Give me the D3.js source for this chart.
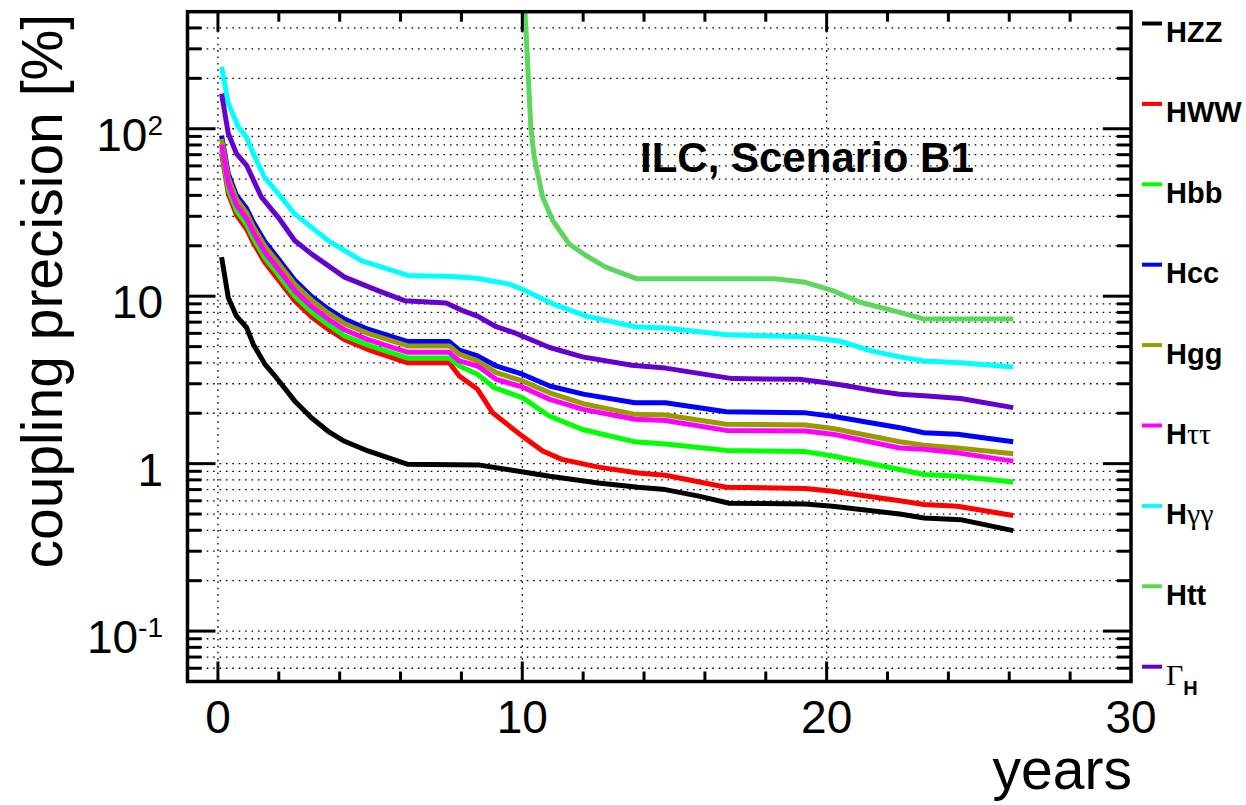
<!DOCTYPE html>
<html><head><meta charset="utf-8">
<script src="https://cdn.jsdelivr.net/npm/d3@7"></script>
<style>body{margin:0;background:#fff}svg{display:block}</style>
</head><body><svg id="c" width="1246" height="805"></svg>
<script>
// ---- data (years, coupling precision %) ----
const HZZ = [[0.12,17.1],[0.34,9.8],[0.61,7.6],[0.94,6.5],[1.16,5.17],[1.54,3.93],[1.92,3.26],[2.52,2.37],[3.07,1.88],[3.62,1.56],[4.16,1.36],[4.93,1.19],[6.24,0.99],[8.6,0.98],[9.57,0.92],[10.9,0.84],[12.5,0.767],[13.8,0.723],[14.7,0.70],[15.8,0.64],[16.8,0.58],[19.3,0.575],[20.2,0.557],[22.4,0.50],[23.2,0.474],[24.4,0.463],[26.13,0.398]];
const HWW = [[0.12,71],[0.34,41],[0.61,30.5],[0.94,25.2],[1.16,20.9],[1.54,15.9],[1.92,13.0],[2.52,9.4],[3.07,7.55],[3.62,6.35],[4.16,5.5],[4.93,4.8],[6.24,4.0],[7.6,4.0],[7.93,3.34],[8.53,2.78],[9.03,2.01],[9.57,1.68],[10.0,1.46],[10.67,1.19],[11.3,1.06],[12.5,0.953],[13.8,0.88],[14.7,0.853],[16.7,0.723],[19.3,0.71],[20.2,0.684],[22.4,0.60],[23.2,0.57],[24.3,0.557],[26.13,0.49]];
const Hbb = [[0.12,75],[0.34,43.5],[0.61,32.4],[0.94,26.8],[1.16,22.2],[1.54,16.9],[1.92,13.9],[2.52,10.0],[3.07,8.05],[3.62,6.75],[4.16,5.8],[4.93,5.1],[6.24,4.27],[7.6,4.27],[7.93,3.83],[8.53,3.42],[9.08,2.84],[10.0,2.48],[10.9,1.92],[11.98,1.60],[13.7,1.35],[14.7,1.31],[16.7,1.20],[19.3,1.18],[20.2,1.11],[22.4,0.923],[23.2,0.861],[24.3,0.842],[26.13,0.778]];
const Hcc = [[0.12,91],[0.34,54],[0.61,40],[0.94,33.5],[1.16,27.7],[1.54,21.2],[1.92,17.3],[2.52,12.5],[3.07,10.0],[3.62,8.4],[4.16,7.3],[4.93,6.35],[6.24,5.36],[7.6,5.36],[7.93,4.76],[8.53,4.40],[9.14,3.83],[10.0,3.42],[10.9,2.91],[12.0,2.60],[13.7,2.31],[14.7,2.31],[16.7,2.04],[19.3,2.01],[20.2,1.92],[22.4,1.64],[23.2,1.53],[24.3,1.50],[26.13,1.35]];
const Hgg = [[0.12,87],[0.34,51],[0.61,38],[0.94,31.5],[1.16,26],[1.54,19.9],[1.92,16.3],[2.52,11.8],[3.07,9.5],[3.62,7.95],[4.16,6.85],[4.93,6.0],[6.24,5.05],[7.6,5.05],[7.93,4.51],[8.53,4.11],[9.14,3.50],[10.0,3.12],[10.9,2.65],[12.0,2.28],[13.7,1.97],[14.7,1.95],[16.7,1.72],[19.3,1.70],[20.2,1.62],[22.4,1.35],[23.2,1.29],[24.3,1.24],[26.13,1.145]];
const Htautau = [[0.12,80],[0.34,47],[0.61,35],[0.94,29],[1.16,24],[1.54,18.3],[1.92,15],[2.52,10.8],[3.07,8.7],[3.62,7.3],[4.16,6.3],[4.93,5.5],[6.24,4.62],[7.6,4.62],[7.93,4.11],[8.53,3.83],[9.14,3.19],[10.0,2.87],[10.9,2.42],[12.0,2.11],[13.7,1.84],[14.7,1.81],[16.7,1.58],[19.3,1.565],[20.2,1.50],[22.4,1.24],[23.2,1.22],[24.3,1.16],[26.13,1.035]];
const Hgamgam = [[0.12,234],[0.34,142],[0.67,102.5],[0.94,89],[1.21,68],[1.54,51],[1.98,41],[2.52,31],[3.62,21.5],[4.71,16.3],[6.24,13.3],[7.7,13.1],[8.5,12.8],[9.57,11.8],[10.0,11.0],[11.0,9.0],[12.1,7.6],[13.7,6.57],[14.7,6.45],[16.7,5.88],[19.3,5.72],[20.4,5.4],[21.5,4.7],[22.4,4.34],[23.2,4.1],[24.4,4.0],[26.13,3.78]];
const Htt = [[10.05,700],[10.28,102],[10.39,68],[10.67,39],[11.0,28.3],[11.54,20.5],[12.09,17.5],[12.74,14.9],[13.77,12.7],[18.3,12.7],[19.3,12.1],[20.2,10.8],[21.1,9.2],[22.4,8.0],[23.2,7.3],[26.13,7.3]];
const GammaH = [[0.12,162],[0.34,93.6],[0.61,71],[0.94,60.5],[1.43,39],[1.98,29.6],[2.52,21.5],[3.07,17.9],[4.16,13.0],[5.26,10.8],[6.13,9.4],[7.5,9.1],[8.04,8.2],[8.53,7.6],[9.14,6.57],[9.8,5.99],[10.9,4.94],[11.98,4.34],[13.6,3.87],[14.7,3.72],[16.9,3.22],[19.1,3.19],[19.95,3.05],[20.7,2.91],[21.6,2.72],[22.4,2.60],[23.2,2.54],[24.4,2.45],[26.13,2.16]];

const seriesKeys = ["HZZ","HWW","Hbb","Hcc","Hgg","Htautau","Hgamgam","Htt","GammaH"];
const seriesData = [HZZ,HWW,Hbb,Hcc,Hgg,Htautau,Hgamgam,Htt,GammaH];
const seriesColors = ["#000000","#ff0000","#00ff00","#0000ff","#999900","#ff00ff","#00ffff","#5cd65c","#6600cc"];
const xTickValues = [0,10,20,30];
const xMinorValues = [2,4,6,8,12,14,16,18,22,24,26,28];
const yMajorValues = [0.1,1,10,100];
const yMajorLabels = [["10","-1"],["1",""],["10",""],["10","2"]];
const titleText = "ILC, Scenario B1";
const xTitle = "years";
const yTitle = "coupling precision [%]";

// ---- layout ----
const L = 187.5, R = 1131, T = 11.7, B = 681.5;
const svg = d3.select("#c");
const x = d3.scaleLinear().domain([-1,30]).range([L,R]);
const y = d3.scaleLog().domain([0.05,500]).range([B,T]);
const font = "'Liberation Sans', Arial, Helvetica, sans-serif";
const serif = "'Liberation Serif', 'DejaVu Serif', serif";

// minor y values
const yAll = [];
for (let e=-2;e<=2;e++) for (let m=1;m<=9;m++){const v=m*Math.pow(10,e); if(v>0.0499 && v<500.1) yAll.push(+v.toPrecision(3));}

// grid
const grid = svg.append("g").attr("stroke","#000").attr("stroke-width",1.3).attr("stroke-dasharray","1.6,4.8");
grid.selectAll("line.h").data(yAll.filter(v=>v>0.051 && v<499)).join("line")
  .attr("x1",L).attr("x2",R).attr("y1",d=>y(d)).attr("y2",d=>y(d));
grid.selectAll("line.v").data(xTickValues.filter(v=>v<30)).join("line")
  .attr("y1",T).attr("y2",B).attr("x1",d=>x(d)).attr("x2",d=>x(d));

// clip
svg.append("clipPath").attr("id","pc").append("rect").attr("x",L).attr("y",T).attr("width",R-L).attr("height",B-T);

// lines
const line = d3.line().x(d=>x(d[0])).y(d=>y(d[1]));
const lg = svg.append("g").attr("clip-path","url(#pc)");
seriesData.forEach((s,i)=>{
  lg.append("path").attr("d",line(s)).attr("fill","none").attr("stroke",seriesColors[i])
    .attr("stroke-width",5).attr("stroke-linejoin","round");
});

// axes ticks
const ax = svg.append("g").attr("stroke","#000").attr("stroke-width",3);
const yMinorOnly = yAll.filter(v=>!yMajorValues.includes(v) && v>0.051 && v<499);
ax.selectAll("line.ylm").data(yMajorValues).join("line").attr("x1",L).attr("x2",L+28).attr("y1",d=>y(d)).attr("y2",d=>y(d));
ax.selectAll("line.ylmi").data(yMinorOnly).join("line").attr("x1",L).attr("x2",L+14).attr("y1",d=>y(d)).attr("y2",d=>y(d));
ax.selectAll("line.yrm").data(yMajorValues).join("line").attr("x1",R).attr("x2",R-28).attr("y1",d=>y(d)).attr("y2",d=>y(d));
ax.selectAll("line.yrmi").data(yMinorOnly).join("line").attr("x1",R).attr("x2",R-14).attr("y1",d=>y(d)).attr("y2",d=>y(d));
ax.selectAll("line.xbm").data(xTickValues.filter(v=>v<30)).join("line").attr("y1",B).attr("y2",B-20).attr("x1",d=>x(d)).attr("x2",d=>x(d));
ax.selectAll("line.xbmi").data(xMinorValues).join("line").attr("y1",B).attr("y2",B-10).attr("x1",d=>x(d)).attr("x2",d=>x(d));
ax.selectAll("line.xtm").data(xTickValues.filter(v=>v<30)).join("line").attr("y1",T).attr("y2",T+20).attr("x1",d=>x(d)).attr("x2",d=>x(d));
ax.selectAll("line.xtmi").data(xMinorValues).join("line").attr("y1",T).attr("y2",T+10).attr("x1",d=>x(d)).attr("x2",d=>x(d));
svg.append("rect").attr("x",L).attr("y",T).attr("width",R-L).attr("height",B-T)
  .attr("fill","none").attr("stroke","#000").attr("stroke-width",3.5);

// tick labels
svg.selectAll("text.xl").data(xTickValues).join("text")
  .attr("x",d=>x(d)).attr("y",733).attr("text-anchor","middle")
  .attr("font-family",font).attr("font-size",46).text(d=>d);
yMajorValues.forEach((v,i)=>{
  const t = svg.append("text").attr("x",163).attr("y",y(v)+22).attr("text-anchor","end")
    .attr("font-family",font).attr("font-size",46);
  t.append("tspan").text(yMajorLabels[i][0]);
  if (yMajorLabels[i][1]) t.append("tspan").attr("dy",-16).attr("font-size",28).text(yMajorLabels[i][1]);
});

// axis titles
svg.append("text").attr("x",R+1).attr("y",789).attr("text-anchor","end")
  .attr("font-family",font).attr("font-size",57).text(xTitle);
svg.append("text").attr("transform","translate(62,14) rotate(-90)").attr("text-anchor","end")
  .attr("font-family",font).attr("font-size",57).text(yTitle);

// title
svg.append("text").attr("x",640).attr("y",172).attr("font-family",font).attr("font-weight","bold")
  .attr("font-size",42).text(titleText);

// legend
const legendParts = [
  [["HZZ","bold"]],[["HWW","bold"]],[["Hbb","bold"]],[["Hcc","bold"]],[["Hgg","bold"]],
  [["H","bold"],["ττ","greek"]],[["H","bold"],["γγ","greek"]],[["Htt","bold"]],[["Γ","greek"],["H","bold","sub"]]
];
seriesKeys.forEach((k,i)=>{
  const my = 23.5 + 80.4*i;
  svg.append("line").attr("x1",1142).attr("x2",1162).attr("y1",my).attr("y2",my)
    .attr("stroke",seriesColors[i]).attr("stroke-width",4);
  const t = svg.append("text").attr("x",1166).attr("y",42+80.4*i).attr("font-family",font).attr("font-size",29);
  legendParts[i].forEach(p=>{
    const ts = t.append("tspan").text(p[0]);
    if (p[1]==="greek") ts.attr("font-family",serif).attr("font-weight","normal").attr("font-size",30);
    else ts.attr("font-weight",p[1]);
    if (p[2]==="sub") ts.attr("dy",10).attr("font-size",20);
  });
});
</script></body></html>
